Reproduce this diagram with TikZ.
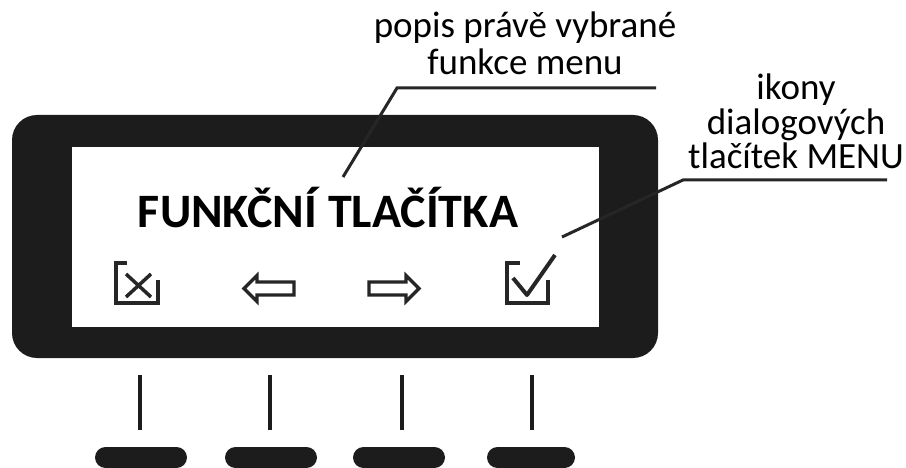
\documentclass[tikz,border=0pt]{standalone}
\usepackage{fontspec}
\setmainfont{Carlito}
\definecolor{framecol}{HTML}{1C1C1C}
\definecolor{inkcol}{HTML}{262626}
\begin{document}
\begin{tikzpicture}[x=1pt,y=-1pt,
  lbl/.style={font=\fontsize{37}{37}\selectfont, anchor=base, inner sep=0pt, text=black},
  title/.style={font=\fontsize{48}{48}\selectfont\bfseries, anchor=base, inner sep=0pt, text=black},
  leader/.style={draw=inkcol, line width=3pt},
  iconline/.style={draw=inkcol, line width=4pt, line join=miter},
  tick/.style={draw=framecol, line width=4.5pt},
  keybtn/.style={fill=framecol, rounded corners=10.5pt}]
\useasboundingbox (0,0) rectangle (906,468);

% display frame
\fill[framecol, rounded corners=25pt] (12,115) rectangle (658,358);
\fill[white] (72,147) rectangle (599,327);

% title
\node[title] (title) at (328,228) {FUNKČNÍ TLAČÍTKA};

% icons
% cancel icon
\draw[iconline] (127,263) -- (116,263) -- (116,303) -- (158,303) -- (158,280);
\draw[iconline, line width=3.5pt] (126,274) -- (151,297) (151,274) -- (126,297);
% left arrow
\draw[iconline, line width=3.2pt] (244,288.5) -- (257,275.5) -- (257,282) -- (294,282) -- (294,295) -- (257,295) -- (257,301.5) -- cycle;
% right arrow
\draw[iconline, line width=3.2pt] (419,288.5) -- (406,275.5) -- (406,282) -- (369,282) -- (369,295) -- (406,295) -- (406,301.5) -- cycle;
% confirm icon
\draw[iconline] (520,263) -- (507,263) -- (507,303) -- (548,303) -- (548,280);
\draw[iconline, line width=4pt, line join=round] (513,278) -- (527,295) -- (555,255);

% labels
\node[lbl] (popis1) at (525,38) {popis právě vybrané};
\node[lbl] (popis2) at (525,75) {funkce menu};
\node[lbl] (ikony1) at (796,100) {ikony};
\node[lbl] (ikony2) at (796,135) {dialogových};
\node[lbl] (ikony3) at (796,169) {tlačítek MENU};

% leader lines
\coordinate (p1start) at (656,88);
\coordinate (p1knee) at (397,88);
\coordinate (p1end) at (343,177);
\draw[leader] (p1start) -- (p1knee) -- (p1end);
\coordinate (p2start) at (887,180);
\coordinate (p2knee) at (683,180);
\coordinate (p2end) at (562,237);
\draw[leader] (p2start) -- (p2knee) -- (p2end);

% key stems
\draw[tick] (140,375) -- (140,430);
\draw[tick] (270,375) -- (270,430);
\draw[tick] (402,375) -- (402,430);
\draw[tick] (532,375) -- (532,430);

% keys
\fill[keybtn] (95,447) rectangle (187,468);
\fill[keybtn] (225,447) rectangle (317,468);
\fill[keybtn] (353,447) rectangle (445,468);
\fill[keybtn] (487,447) rectangle (575,468);
\end{tikzpicture}
\end{document}
